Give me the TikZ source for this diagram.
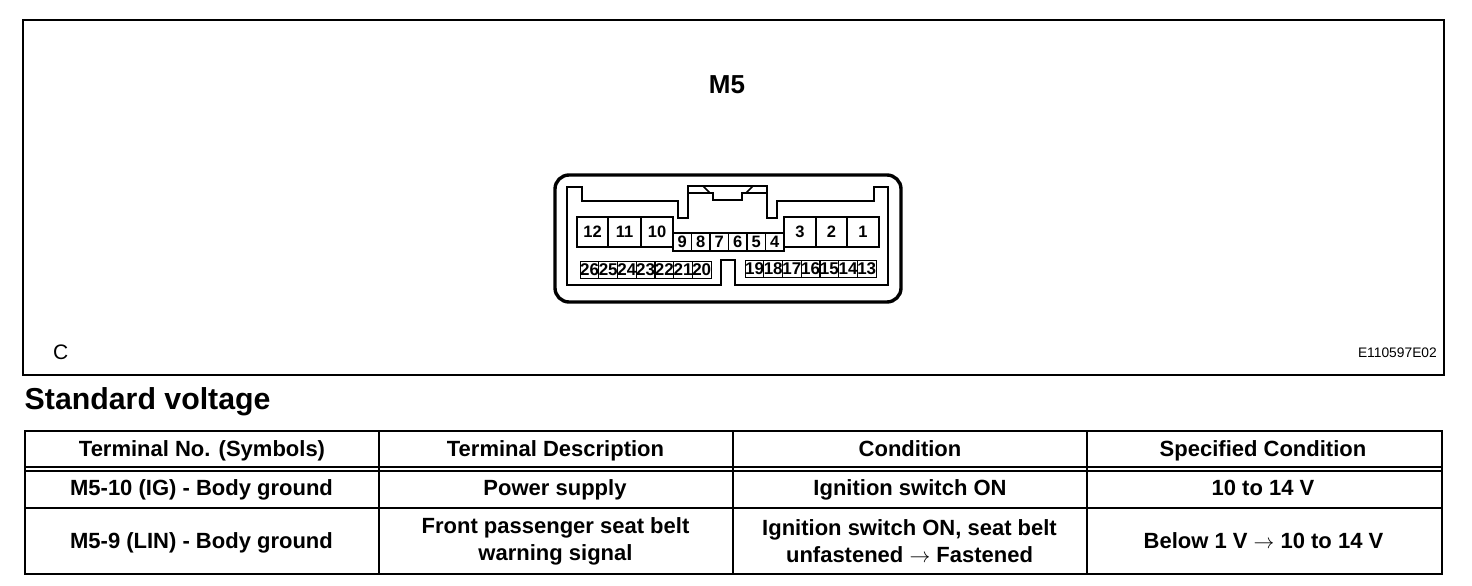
\documentclass[tikz,border=0pt]{standalone}
\usepackage{fontspec}
\setmainfont{Liberation Sans}
\newcommand\FS[1]{\fontsize{#1}{#1}\selectfont}
\tikzset{
  line/.style={draw=black, line width=#1},
  line/.default=2pt,
  pincell/.style={draw=black, line width=1.8pt, inner sep=0pt, font=\FS{16.5}\bfseries},
  smallcell/.style={pincell, line width=1pt, minimum height=17pt, minimum width=18.7pt, font=\FS{17}\bfseries},
  cellhead/.style={anchor=base, font=\FS{22}\bfseries, inner sep=0pt},
  celltext/.style={anchor=center, align=center, font=\FS{22}\bfseries, inner sep=0pt}
}
\begin{document}
\begin{tikzpicture}[x=1pt, y=-1pt]
\useasboundingbox (0,0) rectangle (1472,586);

%% drawing frame
\draw[line] (23,20) rectangle (1444,375);
\node[anchor=center, inner sep=0pt, font=\FS{26}\bfseries] (titleM) at (727,85) {M5};
\node[anchor=base west, inner sep=0pt, font=\FS{21}] (letterC) at (53,359) {C};
\node[anchor=base east, inner sep=0pt, font=\FS{13.8}] (codeE) at (1437,357) {E110597E02};

%% connector body
\draw[line=3.4pt, rounded corners=14pt] (555,175) rectangle (901,302);
\draw[line=1.8pt] (567,187) -- (582,187) -- (582,201) -- (678,201) -- (678,218)
  -- (688,218) -- (688,186) -- (767,186) -- (767,218) -- (777,218) -- (777,201) -- (874,201)
  -- (874,187) -- (888,187) -- (888,285) -- (735,285) -- (735,260) -- (721,260) -- (721,285)
  -- (567,285) -- cycle;

%% latch
\draw[line=1.5pt] (688,193) -- (713,193) -- (713,200) -- (742,200) -- (742,193) -- (767,193);
\draw[line=1.5pt] (703,186) -- (710,193);
\draw[line=1.5pt] (753,186) -- (746,193);

%% upper pins
\foreach \num/\xa/\cw in {12/592.5/31, 11/624.5/33, 10/657/32, 3/800/32, 2/831.5/31, 1/863/32}
  \node[pincell, minimum width=\cw pt, minimum height=30pt] (pin\num) at (\xa,232) {\raisebox{-1pt}{\num}};
\foreach \num [count=\i from 0] in {9,8,7,6,5,4}
  \node[pincell, minimum width=18.5pt, minimum height=18pt] (pin\num) at (682.25+18.5*\i,242) {\raisebox{-1pt}{\num}};

%% lower pins
\foreach \num [count=\i from 0] in {26,25,24,23,22,21,20}
  \node[smallcell] (pin\num) at (589.5+18.7*\i,269.5) {\num};
\foreach \num [count=\i from 0] in {19,18,17,16,15,14,13}
  \node[smallcell] (pin\num) at (754.5+18.7*\i,269) {\num};

%% table
\node[anchor=base west, inner sep=0pt, font=\FS{30.3}\bfseries] (tabTitle) at (24.5,409) {Standard voltage};
\draw[line] (25,431) rectangle (1442,574);
\foreach \xa in {379,733,1087}
  \draw[line] (\xa,431) -- (\xa,574);
\draw[line=2.6pt] (25,466.8) -- (1442,466.8);
\draw[line=2.6pt] (25,471) -- (1442,471);
\draw[line] (25,507.5) -- (1442,507.5);

\node[cellhead] (headA) at (202,456) {Terminal No. (Symbols)};
\node[cellhead] (headB) at (555.5,456) {Terminal Description};
\node[cellhead] (headC) at (910,456) {Condition};
\node[cellhead] (headD) at (1263,456) {Specified Condition};

\node[cellhead] (rowAa) at (201.5,495) {M5-10 (IG) - Body ground};
\node[cellhead] (rowAb) at (555,495) {Power supply};
\node[cellhead] (rowAc) at (910,495) {Ignition switch ON};
\node[cellhead] (rowAd) at (1263,495) {10 to 14 V};

\node[cellhead] (rowBa) at (201.5,548) {M5-9 (LIN) - Body ground};
\node[celltext] (rowBb) at (555.5,541.5) {Front passenger seat belt\\[5pt]warning signal};
\node[celltext] (rowBc) at (909.5,541) {Ignition switch ON, seat belt\\[5pt]unfastened $\rightarrow$ Fastened};
\node[cellhead] (rowBd) at (1263.5,548) {Below 1 V $\rightarrow$ 10 to 14 V};
\end{tikzpicture}
\end{document}
